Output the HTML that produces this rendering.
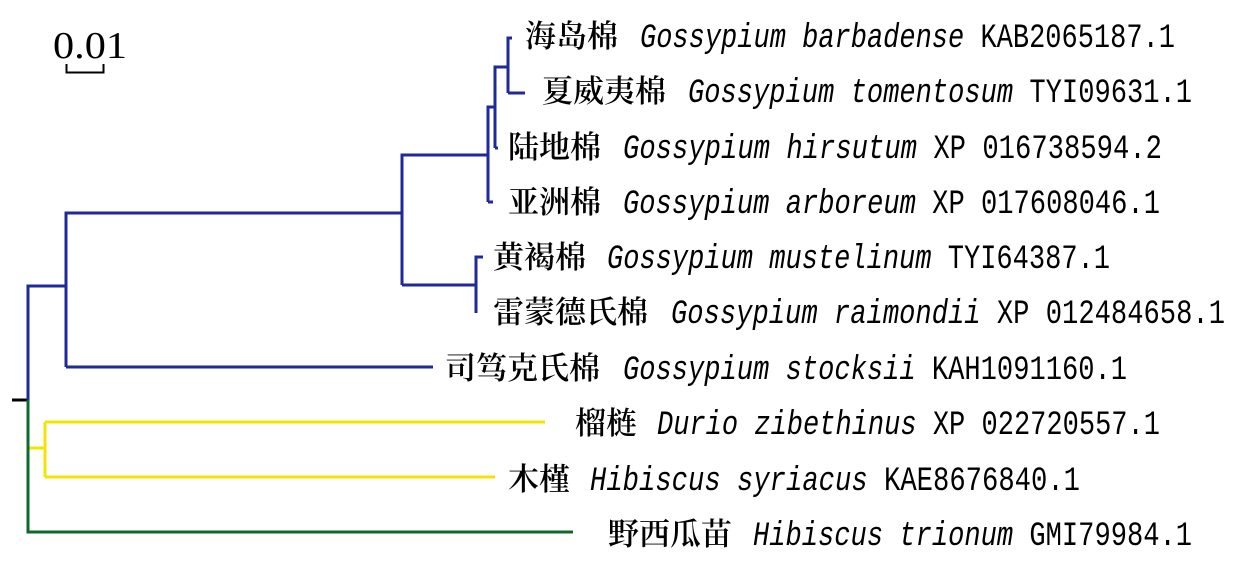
<!DOCTYPE html>
<html><head><meta charset="utf-8"><style>
html,body{margin:0;padding:0;background:#fff;}
svg{display:block;}
.c{font-family:"Noto Serif CJK SC","Liberation Serif",serif;font-size:31px;font-weight:600;fill:#000;}
.m{font-family:"Liberation Mono","Noto Sans CJK SC",monospace;font-size:34px;fill:#000;}
</style></head><body>
<svg width="1242" height="562" viewBox="0 0 1242 562" xmlns="http://www.w3.org/2000/svg">
<!-- scale -->
<text x="53" y="58" font-family="Liberation Serif" font-size="38" textLength="74" lengthAdjust="spacingAndGlyphs">0.01</text>
<path d="M66.5 64 V72.5 H103.5 V64" fill="none" stroke="#000" stroke-width="2"/>
<!-- root -->
<line x1="12" y1="400" x2="28" y2="400" stroke="#000" stroke-width="3"/>
<g fill="none" stroke="#1f2a9a" stroke-width="3">
<path d="M28 400 V286 H66"/>
<path d="M66 367 V213 H402"/>
<path d="M66 367 H433"/>
<path d="M402 285 V155 H488"/>
<path d="M402 285 H476"/>
<path d="M476 313 V257 H483"/>
<path d="M488 202 V107 H495"/>
<path d="M488 202 H493"/>
<path d="M495 148 V67 H508"/>
<path d="M495 148 H498"/>
<path d="M508 93 V38 H512"/>
<path d="M508 93 H525"/>
</g>
<g fill="none" stroke="#f2e600" stroke-width="3">
<path d="M28 448 H45"/>
<path d="M45 422 V477"/>
<path d="M45 422 H545"/>
<path d="M45 477 H495"/>
</g>
<path d="M28 400 V532 H573" fill="none" stroke="#0f6a2a" stroke-width="3"/>
<!-- labels -->
<g>
<text class="c" x="525" y="47" textLength="93" lengthAdjust="spacingAndGlyphs">海岛棉</text>
<text class="m" x="640" y="47" textLength="535" lengthAdjust="spacingAndGlyphs"><tspan font-style="italic">Gossypium barbadense</tspan> KAB2065187.1</text>

<text class="c" x="542" y="102" textLength="124" lengthAdjust="spacingAndGlyphs">夏威夷棉</text>
<text class="m" x="688" y="102" textLength="504" lengthAdjust="spacingAndGlyphs"><tspan font-style="italic">Gossypium tomentosum</tspan> TYI09631.1</text>

<text class="c" x="508" y="158" textLength="93" lengthAdjust="spacingAndGlyphs">陆地棉</text>
<text class="m" x="623" y="158" textLength="539" lengthAdjust="spacingAndGlyphs"><tspan font-style="italic">Gossypium hirsutum</tspan> XP 016738594.2</text>

<text class="c" x="508" y="213" textLength="93" lengthAdjust="spacingAndGlyphs">亚洲棉</text>
<text class="m" x="623" y="213" textLength="537" lengthAdjust="spacingAndGlyphs"><tspan font-style="italic">Gossypium arboreum</tspan> XP 017608046.1</text>

<text class="c" x="493" y="268" textLength="93" lengthAdjust="spacingAndGlyphs">黄褐棉</text>
<text class="m" x="607" y="268" textLength="503" lengthAdjust="spacingAndGlyphs"><tspan font-style="italic">Gossypium mustelinum</tspan> TYI64387.1</text>

<text class="c" x="493" y="323" textLength="155" lengthAdjust="spacingAndGlyphs">雷蒙德氏棉</text>
<text class="m" x="671" y="323" textLength="554" lengthAdjust="spacingAndGlyphs"><tspan font-style="italic">Gossypium raimondii</tspan> XP 012484658.1</text>

<text class="c" x="445" y="379" textLength="155" lengthAdjust="spacingAndGlyphs">司笃克氏棉</text>
<text class="m" x="623" y="379" textLength="504" lengthAdjust="spacingAndGlyphs"><tspan font-style="italic">Gossypium stocksii</tspan> KAH1091160.1</text>

<text class="c" x="575" y="434" textLength="62" lengthAdjust="spacingAndGlyphs">榴梿</text>
<text class="m" x="657" y="434" textLength="503" lengthAdjust="spacingAndGlyphs"><tspan font-style="italic">Durio zibethinus</tspan> XP 022720557.1</text>

<text class="c" x="508" y="490" textLength="62" lengthAdjust="spacingAndGlyphs">木槿</text>
<text class="m" x="590" y="490" textLength="490" lengthAdjust="spacingAndGlyphs"><tspan font-style="italic">Hibiscus syriacus</tspan> KAE8676840.1</text>

<text class="c" x="608" y="545" textLength="124" lengthAdjust="spacingAndGlyphs">野西瓜苗</text>
<text class="m" x="753" y="545" textLength="439" lengthAdjust="spacingAndGlyphs"><tspan font-style="italic">Hibiscus trionum</tspan> GMI79984.1</text>
</g>
</svg>
</body></html>
